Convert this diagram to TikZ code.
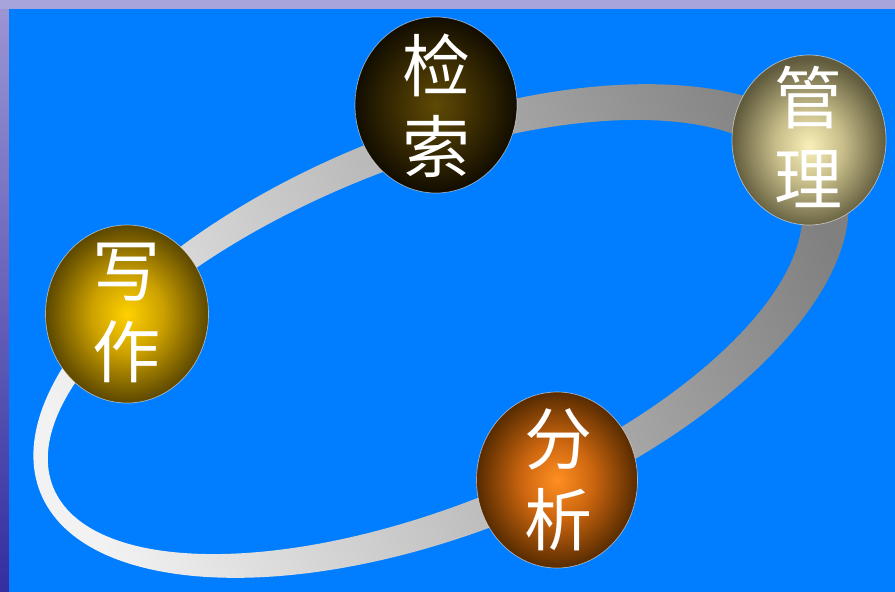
\documentclass[tikz,border=0pt]{standalone}
\usepackage{fontspec}
\newfontfamily\cjk{Noto Sans CJK SC}
\usetikzlibrary{shapes.geometric}
\definecolor{bgblue}{RGB}{0,126,255}
\definecolor{stripTop}{RGB}{166,164,218}
\definecolor{leftTop}{RGB}{156,150,212}
\definecolor{leftBot}{RGB}{52,46,160}
\definecolor{ringL}{RGB}{242,242,242}
\definecolor{ringR}{RGB}{128,128,128}
\pgfdeclareradialshading{shJian}{\pgfpoint{0bp}{0bp}}{rgb(0bp)=(0.37,0.29,0.02); rgb(11bp)=(0.25,0.19,0.01); rgb(25bp)=(0.07,0.05,0.0); rgb(75bp)=(0.07,0.05,0.0)}
\pgfdeclareradialshading{shGuan}{\pgfpoint{0bp}{-2bp}}{rgb(0bp)=(0.98,0.94,0.72); rgb(11bp)=(0.78,0.74,0.54); rgb(25bp)=(0.38,0.36,0.24); rgb(75bp)=(0.38,0.36,0.24)}
\pgfdeclareradialshading{shXie}{\pgfpoint{0bp}{0bp}}{rgb(0bp)=(1.0,0.82,0.0); rgb(11bp)=(0.80,0.63,0.0); rgb(25bp)=(0.36,0.28,0.0); rgb(75bp)=(0.36,0.28,0.0)}
\pgfdeclareradialshading{shFen}{\pgfpoint{0bp}{0bp}}{rgb(0bp)=(1.0,0.56,0.13); rgb(11bp)=(0.80,0.40,0.06); rgb(25bp)=(0.34,0.17,0.0); rgb(75bp)=(0.34,0.17,0.0)}
\tikzset{
  ball/.style={ellipse, inner sep=0pt, shade, draw=white, draw opacity=0.55, line width=0.7pt},
  balltext/.style={inner sep=0pt, text=white, align=center, font=\cjk\fontsize{68}{81}\selectfont},
  ringband/.style={even odd rule, left color=ringL, right color=ringR, shading angle=112}
}
\begin{document}
\begin{tikzpicture}[x=1pt,y=-1pt]
\useasboundingbox (0,0) rectangle (895,592);
% background
\fill[top color=leftTop, bottom color=leftBot] (0,0) rectangle (895,592);
\fill[stripTop] (0,0) rectangle (895,9);
\fill[bgblue] (9,9) rectangle (895,592);
% ring
\shade[ringband] (441,331) ellipse [x radius=432pt, y radius=201pt, rotate=22]
                 (425,337) ellipse [x radius=401pt, y radius=169pt, rotate=22];
% spheres
\node[ball, shading=shJian, minimum width=162pt, minimum height=176pt] (jiansuo) at (436,105) {};
\node[ball, shading=shGuan, minimum width=154pt, minimum height=170pt] (guanli) at (809,140) {};
\node[ball, shading=shXie, minimum width=163pt, minimum height=178pt] (xiezuo) at (127,314) {};
\node[ball, shading=shFen, minimum width=161pt, minimum height=176pt] (fenxi) at (557,480) {};
% labels
\node[balltext] (tJian) at (436,105.5) {检\\索};
\node[balltext] (tGuan) at (808,137) {管\\理};
\node[balltext] (tXie) at (126,312.5) {写\\作};
\node[balltext] (tFen) at (558,479.5) {分\\析};
\end{tikzpicture}
\end{document}
